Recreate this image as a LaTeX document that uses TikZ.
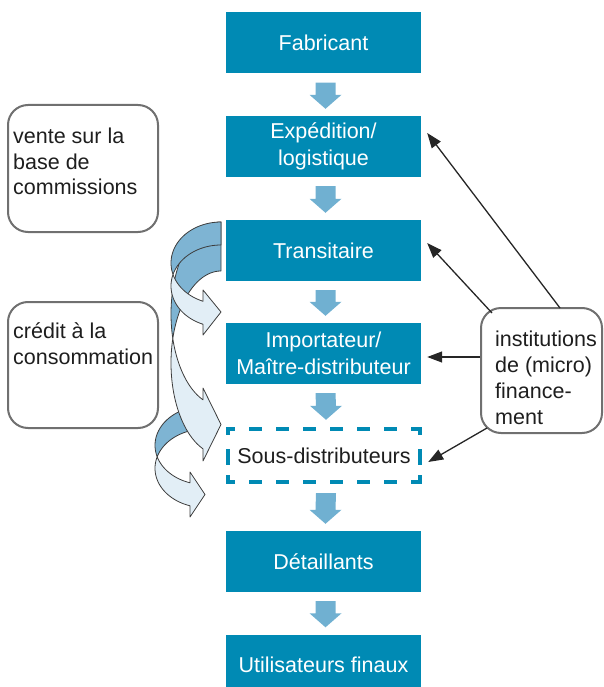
\documentclass[tikz,border=0pt]{standalone}
\usepackage{fontspec}
\setmainfont{Liberation Sans}
\usetikzlibrary{arrows.meta,calc}
\definecolor{boxblue}{RGB}{0,138,180}
\definecolor{flowblue}{RGB}{112,176,209}
\definecolor{backband}{RGB}{126,180,211}
\definecolor{frontband}{RGB}{226,238,246}
\definecolor{framegray}{RGB}{112,112,112}
\definecolor{txtdark}{RGB}{30,30,30}
\definecolor{bandline}{RGB}{60,60,60}
\newcommand\fh{\rule{0pt}{16pt}}
\newcommand\flowarrow[2]{\fill[flowblue] ($(#1.south)+(-8,9)$) -- ($(#1.south)+(12,9)$) -- ($(#2.north)+(12,-21)$) -- ($(#2.north)+(18,-21)$) -- ($(#2.north)+(2,-7)$) -- ($(#2.north)+(-14,-21)$) -- ($(#2.north)+(-8,-21)$) -- cycle;}
\tikzset{
 flowbox/.style={fill=boxblue, text=white, minimum width=195pt, minimum height=61pt, inner sep=0pt, align=center, font=\fontsize{21.5}{27.5}\selectfont},
 sidebox/.style={draw=framegray, line width=2pt, rounded corners=20pt, inner sep=0pt},
 sidetext/.style={text=txtdark, align=left, inner sep=0pt, anchor=north west, font=\fontsize{21.5}{25.8}\selectfont},
 finarrow/.style={draw=black!85, line width=1.3pt, -{Triangle[length=15pt,width=11pt]}},
 backpart/.style={fill=backband, draw=bandline, line width=0.8pt, line join=round},
 frontpart/.style={fill=frontband, draw=bandline, line width=0.8pt, line join=round},
 dashside/.style={draw=boxblue, line width=4pt, line cap=rect},
}
\begin{document}
\begin{tikzpicture}[x=1pt,y=-1pt]
\useasboundingbox (0,0) rectangle (603,687);

% curved arrows (C, B, A)
\path[backpart] plot[domain=270:162.98,samples=40] ({205+50*cos(\x)},{445.3+39.3*sin(\x)}) -- plot[domain=197.02:270,samples=40] ({205+50*cos(\x)},{468.3+39.3*sin(\x)}) -- cycle;
\path[frontpart] plot[domain=162.98:107.46,samples=40] ({205+50*cos(\x)},{445.3+39.3*sin(\x)}) -- (190,472) -- (205,494.5) -- (190,517) -- plot[domain=107.46:197.02,samples=40] ({205+50*cos(\x)},{468.3+39.3*sin(\x)}) -- cycle;

\path[backpart] plot[domain=270:164.56,samples=50] ({221+50*cos(\x)},{314+92*sin(\x)}) -- plot[domain=195.44:270,samples=50] ({221+50*cos(\x)},{363+92*sin(\x)}) -- cycle;
\path[frontpart] plot[domain=164.56:111.1,samples=50] ({221+50*cos(\x)},{314+92*sin(\x)}) -- (203,388) -- (221,424.5) -- (203,461) -- plot[domain=111.1:195.44,samples=50] ({221+50*cos(\x)},{363+92*sin(\x)}) -- cycle;

\path[backpart] plot[domain=270:163.71,samples=40] ({221+50*cos(\x)},{263+41*sin(\x)}) -- plot[domain=196.29:270,samples=40] ({221+50*cos(\x)},{286+41*sin(\x)}) -- cycle;
\path[frontpart] plot[domain=163.71:111.1,samples=40] ({221+50*cos(\x)},{263+41*sin(\x)}) -- (203,290) -- (221,312) -- (203,335) -- plot[domain=111.1:196.29,samples=40] ({221+50*cos(\x)},{286+41*sin(\x)}) -- cycle;

% main flow
\node[flowbox] (fab) at (323.5,43) {Fabricant};
\node[flowbox] (exp) at (323.5,146.5) {Expédition/\\logistique};
\node[flowbox] (trans) at (323.5,250.5) {Transitaire};
\node[flowbox] (imp) at (323.5,353.5) {Importateur/\\Maître-distributeur};
\node[minimum width=196pt, minimum height=57pt, inner sep=0pt, text=txtdark, font=\fontsize{21.5}{26.5}\selectfont] (sous) at (324,455.5) {Sous-distributeurs};
\node[flowbox] (det) at (323.5,561.5) {Détaillants};
\node[flowbox] (util) at (323.5,665) {Utilisateurs finaux};

\draw[dashside, dash pattern=on 9pt off 18pt, dash phase=4pt] ($(sous.north west)+(2,2)$) -- ($(sous.north east)+(-2,2)$);
\draw[dashside, dash pattern=on 9pt off 18pt, dash phase=4pt] ($(sous.south west)+(2,-2)$) -- ($(sous.south east)+(-2,-2)$);
\draw[dashside, dash pattern=on 4pt off 18pt on 12pt off 14pt on 10pt off 10pt] ($(sous.north west)+(2,2)$) -- ($(sous.south west)+(2,-2)$);
\draw[dashside, dash pattern=on 4pt off 18pt on 12pt off 14pt on 10pt off 10pt] ($(sous.north east)+(-2,2)$) -- ($(sous.south east)+(-2,-2)$);

\flowarrow{fab}{exp}
\flowarrow{exp}{trans}
\flowarrow{trans}{imp}
\flowarrow{imp}{sous}
\flowarrow{sous}{det}
\flowarrow{det}{util}

% side boxes
\node[sidebox, minimum width=150pt, minimum height=127pt] (vbox) at (83,168.5) {};
\node[sidetext] (vtext) at (13,127) {\fh vente sur la\\base de\\commissions};
\node[sidebox, minimum width=150pt, minimum height=126pt] (cbox) at (83,365) {};
\node[sidetext] (ctext) at (13,322) {\fh crédit à la\\consommation};
\node[sidebox, minimum width=121pt, minimum height=125pt] (ibox) at (541.5,370.5) {};
\node[sidetext] (itext) at (495,330.5) {\fh institutions\\de (micro)\\finance-\\ment};

% finance arrows
\coordinate (i1) at (560,308);
\coordinate (i2) at (492,313);
\coordinate (i3) at ($(ibox.west)+(0,-13.5)$);
\coordinate (i4) at (487,428);
\draw[finarrow] (i1) -- ($(exp.east)+(6,-13.5)$);
\draw[finarrow] (i2) -- ($(trans.east)+(6,-7.5)$);
\draw[finarrow] (i3) -- ($(imp.east)+(6,3.5)$);
\draw[finarrow] (i4) -- ($(sous.east)+(6,6.5)$);
\end{tikzpicture}
\end{document}
